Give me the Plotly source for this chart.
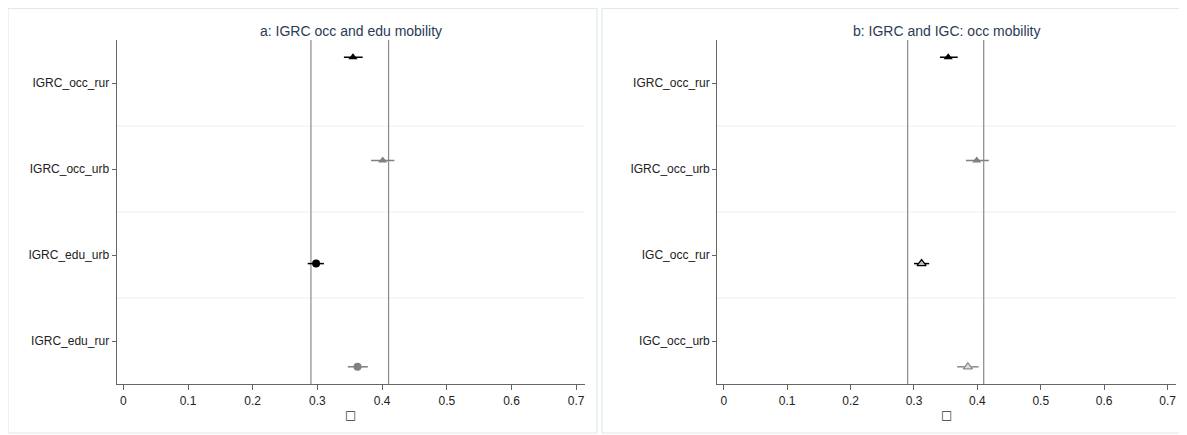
import plotly.graph_objects as go

# ---------------- data ----------------
cats_a = ["IGRC_occ_rur", "IGRC_occ_urb", "IGRC_edu_urb", "IGRC_edu_rur"]
est_a = [0.355, 0.401, 0.298, 0.362]
lo_a = [0.341, 0.383, 0.285, 0.347]
hi_a = [0.370, 0.419, 0.310, 0.378]

cats_b = ["IGRC_occ_rur", "IGRC_occ_urb", "IGC_occ_rur", "IGC_occ_urb"]
est_b = [0.354, 0.399, 0.312, 0.385]
lo_b = [0.341, 0.382, 0.300, 0.368]
hi_b = [0.369, 0.418, 0.324, 0.402]

ref_lines = [0.29, 0.41]
xticks = [0, 0.1, 0.2, 0.3, 0.4, 0.5, 0.6, 0.7]
title_a = "a: IGRC occ and edu mobility"
title_b = "b: IGRC and IGC: occ mobility"
xlabel = "□"

# ---------------- style ----------------
OFF = 8  # default page margin of the html body
W, H = 1187 - OFF, 435 - OFF

def px(v):
    return (v - OFF) / W

def py(v):
    return 1 - (v - OFF) / H

offsets = [-0.3, -0.1, 0.1, 0.3]
sym_a = ["triangle-up", "triangle-up", "circle", "circle"]
col_a = ["#000000", "#808080", "#000000", "#808080"]
sym_b = ["triangle-up", "triangle-up", "triangle-up-open", "triangle-up-open"]
col_b = ["#000000", "#808080", "#000000", "#8c8c8c"]
fill_b = ["#000000", "#808080", "#bbbbbb", "#dddddd"]

fig = go.Figure()

def add_panel(cats, est, lo, hi, syms, cols, fills, xa, ya):
    for i in range(len(cats)):
        y = i + 1 + offsets[i]
        fig.add_trace(go.Scatter(
            x=[lo[i], hi[i]], y=[y, y], mode="lines",
            line=dict(color=cols[i], width=1.5),
            xaxis=xa, yaxis=ya, showlegend=False, hoverinfo="skip"))
        sym = syms[i]
        if sym.endswith("-open"):
            marker = dict(symbol="triangle-up", size=8, color=fills[i],
                          line=dict(color=cols[i], width=1.2))
        else:
            marker = dict(symbol=sym, size=8, color=cols[i],
                          line=dict(width=0))
        fig.add_trace(go.Scatter(
            x=[est[i]], y=[y], mode="markers", marker=marker,
            xaxis=xa, yaxis=ya, showlegend=False, hoverinfo="skip"))

add_panel(cats_a, est_a, lo_a, hi_a, sym_a, col_a, col_a, "x", "y")
add_panel(cats_b, est_b, lo_b, hi_b, sym_b, col_b, fill_b, "x2", "y2")

yd = [py(384), py(40)]
dom_a = [px(116.7), px(584.8)]
dom_b = [px(717.3), px(1176.0)]
xr = [-0.0102, 0.7133]

axis_font = dict(family="Liberation Sans, Arial, sans-serif", size=12, color="#222222")

def xaxis(dom, anchor):
    return dict(domain=dom, range=xr, anchor=anchor, tickvals=xticks,
                ticktext=[("%g" % v) for v in xticks],
                showline=True, linecolor="#666666", linewidth=1.3,
                ticks="outside", ticklen=5, tickcolor="#666666", tickwidth=1,
                showgrid=False, zeroline=False, tickfont=axis_font)

def yaxis(cats, anchor):
    return dict(domain=yd, range=[4.5, 0.5], anchor=anchor,
                tickvals=list(range(1, len(cats) + 1)), ticktext=cats,
                showline=True, linecolor="#666666", linewidth=1.3,
                ticks="outside", ticklen=4, tickcolor="#666666", tickwidth=1,
                showgrid=False, zeroline=False, tickfont=axis_font)

shapes = []
for xa, ya in [("x", "y"), ("x2", "y2")]:
    for g in [1.5, 2.5, 3.5]:
        shapes.append(dict(type="line", xref=xa + " domain", yref=ya,
                           x0=0, x1=1, y0=g, y1=g,
                           line=dict(color="#e8f0f0", width=1), layer="below"))
    for r in ref_lines:
        shapes.append(dict(type="line", xref=xa, yref=ya + " domain",
                           x0=r, x1=r, y0=0, y1=1,
                           line=dict(color="#8a8a8a", width=1.2), layer="below"))

# panel borders
for x0, x1 in [(8, 597), (602, 1190)]:
    shapes.append(dict(type="rect", xref="paper", yref="paper",
                       x0=px(x0), x1=px(x1), y0=py(433), y1=py(8.5),
                       line=dict(color="#dde9ec", width=1.2), layer="below"))

annotations = []
for t, dom in [(title_a, dom_a), (title_b, dom_b)]:
    annotations.append(dict(text=t, xref="paper", yref="paper",
                            x=(dom[0] + dom[1]) / 2, y=py(31),
                            showarrow=False, xanchor="center", yanchor="middle",
                            font=dict(family="Liberation Sans, Arial, sans-serif",
                                      size=14, color="#2b3a55")))
    annotations.append(dict(text=xlabel, xref="paper", yref="paper",
                            x=(dom[0] + dom[1]) / 2, y=py(415),
                            showarrow=False, xanchor="center", yanchor="middle",
                            font=dict(family="DejaVu Sans, sans-serif",
                                      size=12, color="#333333")))

fig.update_layout(
    width=W, height=H, margin=dict(l=0, r=0, t=0, b=0),
    paper_bgcolor="white", plot_bgcolor="white",
    xaxis=xaxis(dom_a, "y"), yaxis=yaxis(cats_a, "x"),
    xaxis2=xaxis(dom_b, "y2"), yaxis2=yaxis(cats_b, "x2"),
    shapes=shapes, annotations=annotations, hovermode=False,
)

fig.write_html("out.html")
